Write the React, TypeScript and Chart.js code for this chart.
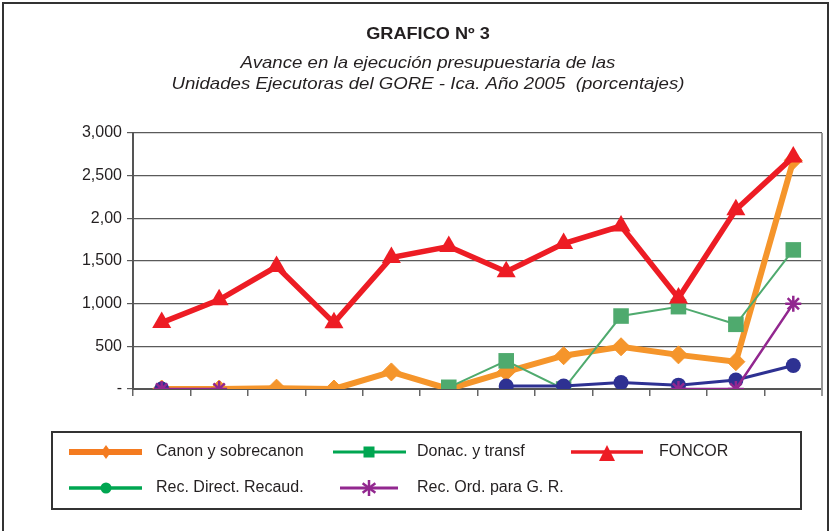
import React, { useEffect, useRef } from 'react';
import { Chart, registerables } from 'chart.js';

Chart.register(...registerables);

const categories = ['U1', 'U2', 'U3', 'U4', 'U5', 'U6', 'U7', 'U8', 'U9', 'U10', 'U11', 'U12'];
const canonSobrecanon = [0, 0, 10, 0, 200, 0, 200, 390, 495, 400, 320, 2680];
const donacTransf = [null, null, null, null, null, 20, 330, 0, 855, 965, 758, 1630];
const foncor = [778, 1045, 1435, 775, 1540, 1670, 1375, 1705, 1910, 1065, 2100, 2720];
const recDirectRecaud = [0, null, null, null, null, null, 35, 35, 75, 45, 105, 275];
const recOrdGR = [0, 0, null, null, null, null, null, null, null, 0, 0, 1000];

const yTickValues = [0, 500, 1000, 1500, 2000, 2500, 3000];
const yTickLabels = ['-', '500', '1,000', '1,500', '2,00', '2,500', '3,000'];

const chartTitle = 'GRAFICO Nº 3';
const subtitleLines = [
  'Avance en la ejecución presupuestaria de las',
  'Unidades Ejecutoras del GORE - Ica. Año 2005  (porcentajes)',
];
const seriesNames = [
  'Canon y sobrecanon',
  'Donac. y transf',
  'FONCOR',
  'Rec. Direct. Recaud.',
  'Rec. Ord. para G. R.',
];

const FONT = "'Liberation Sans', Arial, sans-serif";
const TEXT = '#231F20';
const C_ORANGE = '#F5952B';
const C_GREEN = '#4FAA6E';
const C_RED = '#ED1C24';
const C_NAVY = '#2E3192';
const C_PURPLE = '#92278F';
const L_ORANGE = '#F47B20';
const L_GREEN = '#00A651';

function stretchedText(ctx: CanvasRenderingContext2D, text: string, x: number, y: number, font: string, sx: number) {
  ctx.save();
  ctx.translate(x, y);
  ctx.scale(sx, 1);
  ctx.font = font;
  ctx.fillStyle = TEXT;
  ctx.textAlign = 'center';
  ctx.textBaseline = 'middle';
  ctx.fillText(text, 0, 0);
  ctx.restore();
}

function line(ctx: CanvasRenderingContext2D, x1: number, y1: number, x2: number, y2: number, color: string, w: number) {
  ctx.beginPath();
  ctx.moveTo(x1, y1);
  ctx.lineTo(x2, y2);
  ctx.strokeStyle = color;
  ctx.lineWidth = w;
  ctx.stroke();
}

const decorPlugin = {
  id: 'decor',
  beforeDraw(chart: any) {
    const ctx = chart.ctx as CanvasRenderingContext2D;
    ctx.save();
    ctx.fillStyle = '#ffffff';
    ctx.fillRect(0, 0, chart.width, chart.height);
    ctx.restore();
  },
  beforeDatasetsDraw(chart: any) {
    const ctx = chart.ctx as CanvasRenderingContext2D;
    const a = chart.chartArea;
    ctx.save();
    line(ctx, a.right, a.top, a.right, a.bottom + 7, '#9a9a9a', 2);
    ctx.restore();
  },
  afterDraw(chart: any) {
    const ctx = chart.ctx as CanvasRenderingContext2D;
    ctx.save();
    // outer frame
    ctx.strokeStyle = '#333';
    ctx.lineWidth = 2;
    ctx.strokeRect(3, 3, 825, 540);

    // titles
    stretchedText(ctx, chartTitle, 428, 34, `bold 16.5px ${FONT}`, 1.1);
    stretchedText(ctx, subtitleLines[0], 428, 63, `italic 16.5px ${FONT}`, 1.13);
    stretchedText(ctx, subtitleLines[1], 428, 84, `italic 16.5px ${FONT}`, 1.13);

    // legend box
    ctx.strokeStyle = '#333';
    ctx.lineWidth = 2;
    ctx.strokeRect(52, 432, 749, 77);

    const r1 = 452;
    const r2 = 488;
    // Canon
    line(ctx, 69, r1, 142, r1, L_ORANGE, 6);
    ctx.beginPath();
    ctx.moveTo(106, r1 - 7);
    ctx.lineTo(111, r1);
    ctx.lineTo(106, r1 + 7);
    ctx.lineTo(101, r1);
    ctx.closePath();
    ctx.fillStyle = L_ORANGE;
    ctx.fill();
    // Donac
    line(ctx, 333, r1, 406, r1, L_GREEN, 3);
    ctx.fillStyle = L_GREEN;
    ctx.fillRect(363.5, r1 - 5.5, 11, 11);
    // FONCOR
    line(ctx, 571, r1, 643, r1, C_RED, 3.5);
    ctx.beginPath();
    ctx.moveTo(607, r1 - 7);
    ctx.lineTo(615, r1 + 9);
    ctx.lineTo(599, r1 + 9);
    ctx.closePath();
    ctx.fillStyle = C_RED;
    ctx.fill();
    // Rec Direct
    line(ctx, 69, r2, 142, r2, L_GREEN, 3.5);
    ctx.beginPath();
    ctx.arc(106, r2, 5.5, 0, Math.PI * 2);
    ctx.fillStyle = L_GREEN;
    ctx.fill();
    // Rec Ord
    line(ctx, 340, r2, 398, r2, C_PURPLE, 3);
    const s = 8;
    line(ctx, 369, r2 - s, 369, r2 + s, C_PURPLE, 2.5);
    line(ctx, 369 - s * 0.8, r2 - s * 0.6, 369 + s * 0.8, r2 + s * 0.6, C_PURPLE, 2.5);
    line(ctx, 369 - s * 0.8, r2 + s * 0.6, 369 + s * 0.8, r2 - s * 0.6, C_PURPLE, 2.5);

    ctx.font = `16px ${FONT}`;
    ctx.fillStyle = TEXT;
    ctx.textAlign = 'left';
    ctx.textBaseline = 'middle';
    ctx.fillText(seriesNames[0], 156, r1);
    ctx.fillText(seriesNames[1], 417, r1);
    ctx.fillText(seriesNames[2], 659, r1);
    ctx.fillText(seriesNames[3], 156, r2);
    ctx.fillText(seriesNames[4], 417, r2);
    ctx.restore();
  },
};

export default function App() {
  const ref = useRef<HTMLCanvasElement | null>(null);

  useEffect(() => {
    document.body.style.margin = '0';
    const canvas = ref.current;
    if (!canvas) return;
    const chart = new Chart(canvas, {
      type: 'line',
      data: {
        labels: categories,
        datasets: [
          {
            label: seriesNames[0],
            data: canonSobrecanon,
            borderColor: C_ORANGE,
            backgroundColor: C_ORANGE,
            borderWidth: 6,
            pointStyle: 'rectRot',
            pointRadius: 9,
            pointBorderWidth: 1,
            pointBackgroundColor: C_ORANGE,
            pointBorderColor: C_ORANGE,
            order: 5,
          },
          {
            label: seriesNames[1],
            data: donacTransf,
            borderColor: C_GREEN,
            backgroundColor: C_GREEN,
            borderWidth: 2,
            pointStyle: 'rect',
            pointRadius: 11,
            pointBorderWidth: 0,
            pointBackgroundColor: C_GREEN,
            order: 4,
          },
          {
            label: seriesNames[2],
            data: foncor,
            borderColor: C_RED,
            backgroundColor: C_RED,
            borderWidth: 5.5,
            pointStyle: 'triangle',
            pointRadius: 11,
            pointBorderWidth: 0,
            pointBackgroundColor: C_RED,
            order: 3,
          },
          {
            label: seriesNames[3],
            data: recDirectRecaud,
            borderColor: C_NAVY,
            backgroundColor: C_NAVY,
            borderWidth: 3,
            pointStyle: 'circle',
            pointRadius: 7.5,
            pointBorderWidth: 0,
            pointBackgroundColor: C_NAVY,
            order: 2,
          },
          {
            label: seriesNames[4],
            data: recOrdGR,
            borderColor: C_PURPLE,
            backgroundColor: C_PURPLE,
            borderWidth: 2.5,
            pointStyle: 'star',
            pointRadius: 8,
            pointBorderWidth: 2.5,
            pointBorderColor: C_PURPLE,
            order: 1,
          },
        ],
      },
      options: {
        animation: false,
        responsive: false,
        devicePixelRatio: 1,
        layout: { autoPadding: false, padding: { left: 0, top: 133, right: 8, bottom: 135 } },
        plugins: {
          legend: { display: false },
          title: { display: false },
          tooltip: { enabled: false },
        },
        elements: { line: { tension: 0 } },
        scales: {
          x: {
            type: 'category',
            offset: true,
            grid: {
              offset: true,
              drawOnChartArea: false,
              drawTicks: true,
              tickLength: 7,
              color: '#666',
              lineWidth: 1.5,
            },
            border: { display: true, color: '#555', width: 2 },
            ticks: { display: false },
            afterFit: (s: any) => {
              s.height = 7;
            },
          },
          y: {
            min: 0,
            max: 3000,
            afterBuildTicks: (s: any) => {
              s.ticks = yTickValues.map((v) => ({ value: v }));
            },
            grid: {
              color: '#5a5a5a',
              lineWidth: 1.2,
              tickLength: 6,
              drawTicks: true,
            },
            border: { display: true, color: '#555', width: 2 },
            ticks: {
              padding: 5,
              color: TEXT,
              font: { family: FONT, size: 16 },
              callback: (_v: any, i: number) => yTickLabels[i],
            },
            afterFit: (s: any) => {
              s.width = 133;
            },
          },
        },
      } as any,
      plugins: [decorPlugin],
    });
    return () => chart.destroy();
  }, []);

  return (
    <div style={{ width: 830, height: 531, overflow: 'hidden', position: 'relative' }}>
      <canvas ref={ref} width={830} height={531} style={{ width: 830, height: 531, display: 'block' }} />
    </div>
  );
}
